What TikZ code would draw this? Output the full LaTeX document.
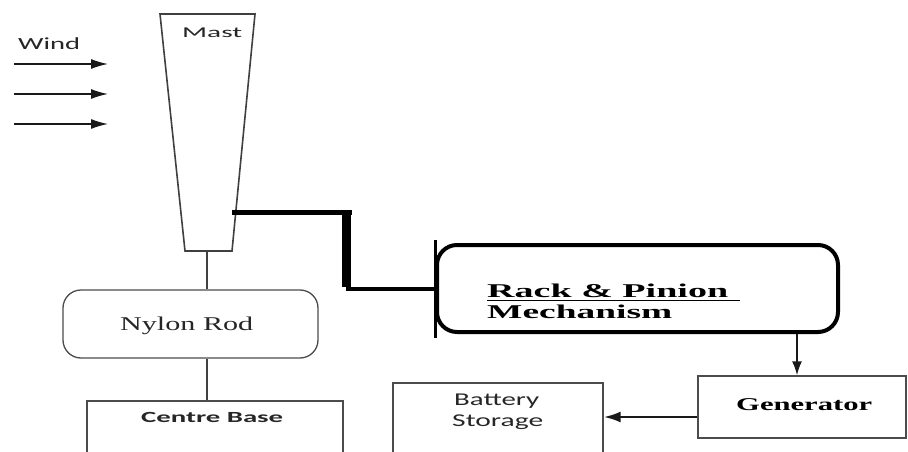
\documentclass[tikz,border=0pt]{standalone}
\usepackage{graphicx}
\usepackage{fontspec}
\setmainfont{Liberation Serif}
\newfontfamily\calibri{Carlito}
\usetikzlibrary{arrows.meta}
\newcommand{\stretchtxt}[2]{\resizebox{#1}{\height}{#2}}
\tikzset{
  conn/.style={draw=black!75, line width=1.3pt},
  arrowline/.style={draw=black!90},
  boxline/.style={draw=black!70, line width=1.3pt, inner sep=0pt},
  rbox/.style={boxline, rounded corners=18pt},
  txt/.style={inner sep=0pt, anchor=base west, text=black!85},
}
\begin{document}
\begin{tikzpicture}[x=1pt,y=-1pt]
\path[use as bounding box, clip] (0,0) rectangle (908,452);
\fill[white] (0,0) rectangle (908,452);
% Wind
\node[txt] (windtxt) at (18,50) {\calibri\fontsize{17}{17}\selectfont\stretchtxt{62pt}{Wind}};
\coordinate (w1a) at (14,64);  \coordinate (w1b) at (108,64);
\coordinate (w2a) at (14,94);  \coordinate (w2b) at (108,94);
\coordinate (w3a) at (14,124); \coordinate (w3b) at (108,124);
\foreach \i in {1,2,3} \draw[arrowline, line width=1.4pt, -{Latex[length=17pt,width=10pt]}] (w\i a) -- (w\i b);
% Mast
\coordinate (mtl) at (160,14);
\coordinate (mtr) at (255,14);
\coordinate (mbr) at (232,251);
\coordinate (mbl) at (185,251);
\draw[conn, line width=1.6pt] (mtl) -- (mtr) -- (mbr) -- (mbl) -- cycle;
\node[txt] (masttxt) at (182,38) {\calibri\fontsize{15}{15}\selectfont\stretchtxt{60pt}{Mast}};
\coordinate (mb) at (207,251);
\coordinate (mr) at (232,212);
% Nylon rod
\node[rbox, minimum width=255pt, minimum height=68pt] (nylon) at (190.5,324) {};
\node[txt] (nylontxt) at (120,330) {\fontsize{19.5}{19.5}\selectfont\stretchtxt{133pt}{Nylon Rod}};
% Centre base
\node[boxline, minimum width=256pt, minimum height=90pt] (base) at (215,446) {};
\node[txt] (basetxt) at (141,422) {\calibri\bfseries\fontsize{15.5}{15.5}\selectfont\stretchtxt{142pt}{Centre Base}};
\draw[conn] (mb) -- (mb |- nylon.north);
\draw[conn] (mb |- nylon.south) -- (mb |- base.north);
% Rack & pinion
\node[draw=black, line width=4pt, rounded corners=20pt, inner sep=0pt,
      minimum width=401pt, minimum height=87pt] (rack) at (637.5,288.5) {};
\draw[black, line width=3pt] ([yshift=-49pt]rack.west) -- ([yshift=49pt]rack.west);
\node[txt, text=black] (rack1) at (487,297) {\bfseries\fontsize{19.5}{19.5}\selectfont\stretchtxt{241pt}{Rack \& Pinion}};
\node[txt, text=black] (rack2) at (487,318) {\bfseries\fontsize{19.5}{19.5}\selectfont\stretchtxt{185pt}{Mechanism}};
\draw[black, line width=1.6pt] (rack1.base west) ++(0,3.5) -- ++(253,0);
% thick linkage
\coordinate (k1) at (346,212);
\coordinate (k2) at (346,288.5);
\draw[black, line width=5pt] (mr) -- ([xshift=6pt]k1);
\draw[black, line width=9pt] ([yshift=-2.5pt]k1) -- ([yshift=2pt]k2);
\draw[black, line width=4pt] (k2) -- (rack.west);
% Generator
\node[boxline, minimum width=208pt, minimum height=62pt] (gen) at (802,407) {};
\node[txt, text=black] (gentxt) at (736,410) {\bfseries\fontsize{18}{18}\selectfont\stretchtxt{136pt}{Generator}};
\draw[arrowline, line width=1.8pt, -{Latex[length=14pt,width=10pt]}] (rack.south -| gen.north) ++(-5,0) coordinate (ra) -- (ra |- gen.north);
% Battery
\node[boxline, minimum width=210pt, minimum height=90pt] (bat) at (498,428) {};
\node[txt] (battxt1) at (454,405) {\calibri\fontsize{18}{18}\selectfont\stretchtxt{85pt}{Battery}};
\node[txt] (battxt2) at (452,426) {\calibri\fontsize{18}{18}\selectfont\stretchtxt{91pt}{Storage}};
\draw[arrowline, line width=2.6pt, -{Latex[length=17pt,width=11pt]}] (gen.west |- 0,417) -- (bat.east |- 0,417);
\end{tikzpicture}
\end{document}
